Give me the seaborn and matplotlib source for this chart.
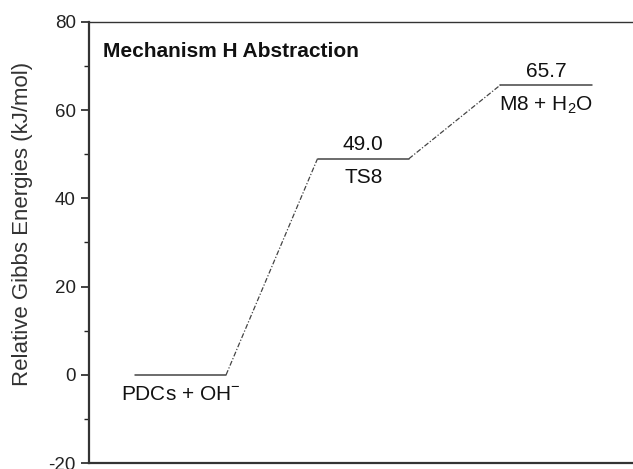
import matplotlib
matplotlib.use("Agg")
import matplotlib.pyplot as plt
from matplotlib.ticker import MultipleLocator
import seaborn as sns
import pandas as pd

species = ["PDCs + OH$^{-}$", "TS8", "M8 + H$_2$O"]
energies = [0.0, 49.0, 65.7]
value_labels = ["", "49.0", "65.7"]
positions = [0, 2, 4]

sns.set_theme(style="ticks")
plt.rcParams['font.family'] = ['Liberation Sans', 'DejaVu Sans']
plt.rcParams['mathtext.fontset'] = 'custom'
plt.rcParams['mathtext.rm'] = 'Liberation Sans'
plt.rcParams['axes.unicode_minus'] = False

fig = plt.figure(figsize=(6.33, 4.69), dpi=100)
ax = fig.add_axes([89/633, 1-463/469, (6*91.4)/633, (463-22)/469])

# levels
for p, e in zip(positions, energies):
    df = pd.DataFrame({"x": [p, p+1], "y": [e, e]})
    sns.lineplot(data=df, x="x", y="y", ax=ax, color="#444444", lw=1.1)

# connectors
for i in range(len(positions)-1):
    df = pd.DataFrame({"x": [positions[i]+1, positions[i+1]], "y": [energies[i], energies[i+1]]})
    sns.lineplot(data=df, x="x", y="y", ax=ax, color="#444444", lw=0.9, linestyle=(0, (4, 1.5, 1, 1.5)))

for p, e, vl, sp in zip(positions, energies, value_labels, species):
    if vl:
        ax.text(p+0.5, e+1.0, vl, ha="center", va="bottom", fontsize=15, color="#111111")
    ax.text(p+0.5, e-2.2, sp, ha="center", va="top", fontsize=15, color="#111111")

ax.text(0.025, 0.955, "Mechanism H Abstraction", transform=ax.transAxes, ha="left", va="top",
        fontsize=15, fontweight="bold", color="#111111")

ax.set_xlim(-0.5, 5.5)
ax.set_ylim(-20, 80)
ax.yaxis.set_major_locator(MultipleLocator(20))
ax.yaxis.set_minor_locator(MultipleLocator(10))
ax.set_xticks([])
ax.set_xlabel("")
ax.set_ylabel("Relative Gibbs Energies (kJ/mol)", fontsize=16, color="#333333")
ax.yaxis.set_label_coords(-0.102, 0.542)
ax.tick_params(axis="y", which="major", length=6, width=1.2, labelsize=13.5, colors="#222222")
ax.tick_params(axis="y", which="minor", length=3.5, width=1.0, colors="#222222")
for s in ["left", "bottom"]:
    ax.spines[s].set_linewidth(1.6)
    ax.spines[s].set_color("#333333")
for s in ["top", "right"]:
    ax.spines[s].set_visible(True)
    ax.spines[s].set_linewidth(1.0)
    ax.spines[s].set_color("#333333")

fig.savefig("out.png", dpi=100)
